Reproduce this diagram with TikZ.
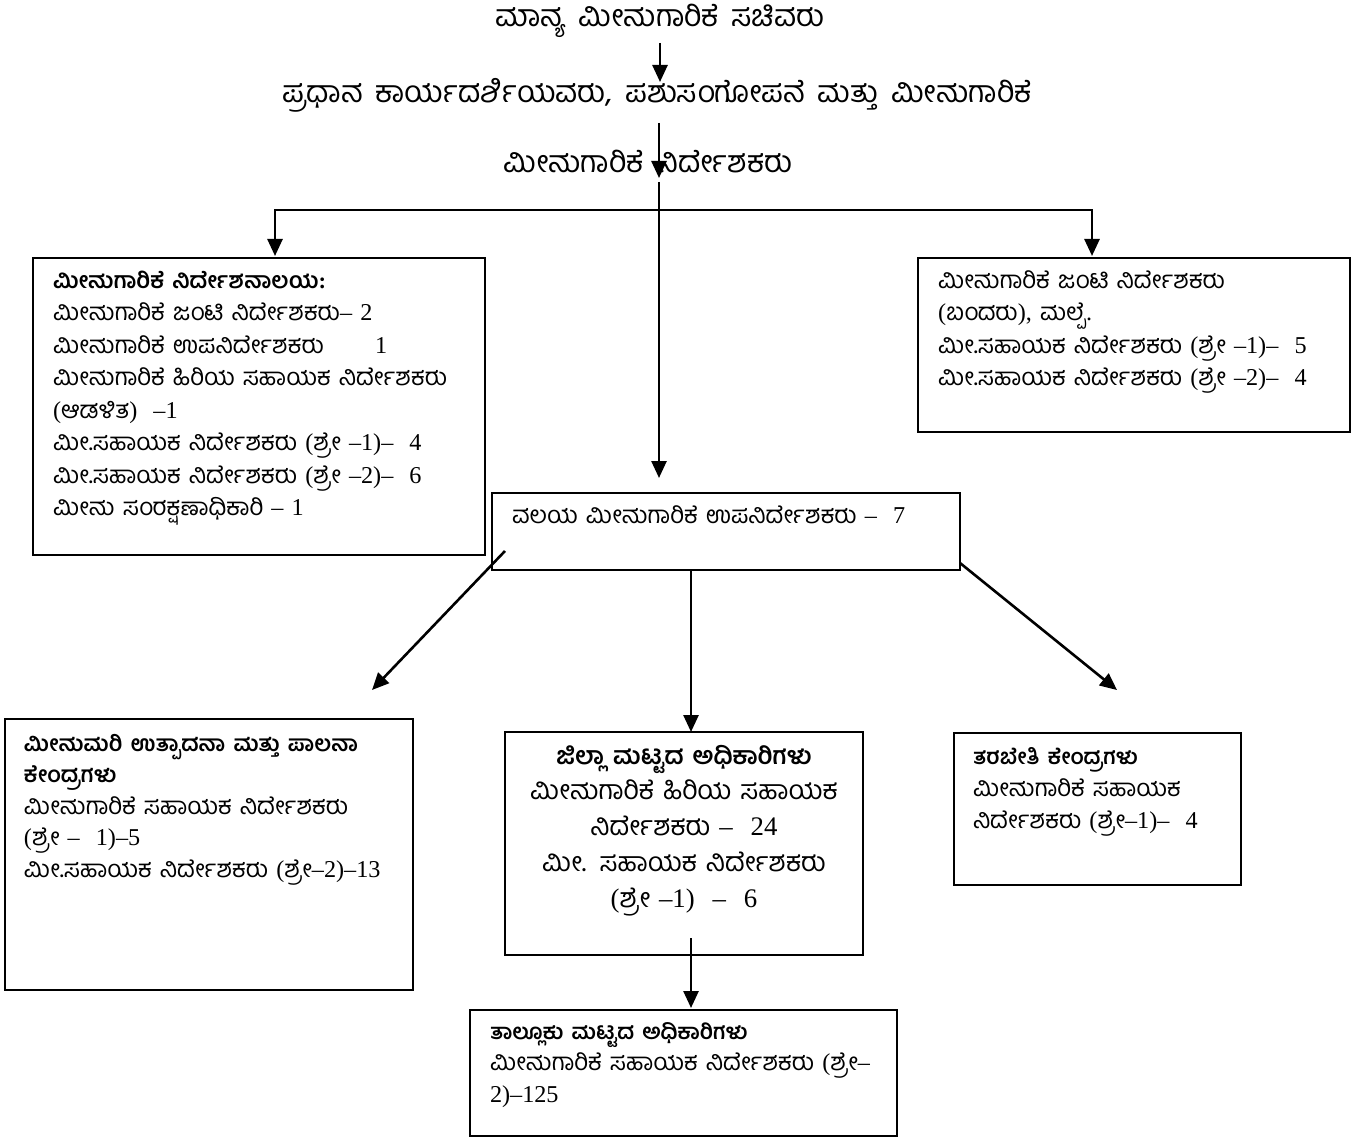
\documentclass[tikz,border=0pt]{standalone}
\usepackage{fontspec}
\setmainfont{Liberation Serif}
\newfontfamily\kn[Script=Kannada,WordSpace=1.7]{Hind Mysuru}
\usetikzlibrary{arrows.meta,calc}
\newcommand\tr[1]{{\rmfamily #1}}
\newcommand\kfs[2]{\kn\fontsize{#1}{#2}\selectfont\lineskiplimit=-40pt\relax}
\newcommand\bh[2]{{\bfseries\fontsize{#1}{10}\selectfont #2}}
\begin{document}
\begin{tikzpicture}[x=0.5pt,y=-0.5pt,
  box/.style={draw, line width=1.1pt, anchor=north west, inner sep=0pt, outer sep=0pt},
  txt/.style={anchor=base west, inner sep=0pt, outer sep=0pt, align=left, text width=#1},
  ttl/.style={anchor=base, inner sep=0pt, outer sep=0pt, font=\kfs{15.2}{17}},
  arr/.style={line width=1.3pt, -{Triangle[length=8.5pt,width=7.5pt]}}]
\useasboundingbox (0,0) rectangle (1369,1139);

% titles
\node[ttl] (t1) at (660,27) {ಮಾನ್ಯ ಮೀನುಗಾರಿಕೆ ಸಚಿವರು};
\node[ttl] (t2) at (657,103) {ಪ್ರಧಾನ ಕಾರ್ಯದರ್ಶಿಯವರು, ಪಶುಸಂಗೋಪನೆ ಮತ್ತು ಮೀನುಗಾರಿಕೆ};
\node[ttl] (t3) at (648,173) {ಮೀನುಗಾರಿಕೆ ನಿರ್ದೇಶಕರು};

% boxes
\node[box, minimum width=226pt, minimum height=148.5pt] (b1) at (33,258) {};
\node[box, minimum width=216pt, minimum height=87pt] (b2) at (918,258) {};
\node[box, minimum width=234pt, minimum height=38.5pt] (b3) at (492,493) {};
\node[box, minimum width=204pt, minimum height=135.5pt] (b4) at (5,719) {};
\node[box, minimum width=179pt, minimum height=111.5pt] (b5) at (505,732) {};
\node[box, minimum width=143.5pt, minimum height=76pt] (b6) at (954,733) {};
\node[box, minimum width=213.5pt, minimum height=63pt] (b7) at (470,1010) {};

% box texts
\node[txt=215pt, font=\kfs{12.1}{16.25}] (b1t) at (53,288) {%
\bh{11.3}{ಮೀನುಗಾರಿಕೆ ನಿರ್ದೇಶನಾಲಯ\tr{:}}\\
ಮೀನುಗಾರಿಕೆ ಜಂಟಿ ನಿರ್ದೇಶಕರು\tr{– 2}\\
\makebox[161pt][l]{ಮೀನುಗಾರಿಕೆ ಉಪನಿರ್ದೇಶಕರು}\tr{1}\\
ಮೀನುಗಾರಿಕೆ ಹಿರಿಯ ಸಹಾಯಕ ನಿರ್ದೇಶಕರು\\
\tr{(}ಆಡಳಿತ\tr{)\ \ –1}\\
ಮೀ.ಸಹಾಯಕ ನಿರ್ದೇಶಕರು \tr{(}ಶ್ರೇ \tr{–1)– \ 4}\\
ಮೀ.ಸಹಾಯಕ ನಿರ್ದೇಶಕರು \tr{(}ಶ್ರೇ \tr{–2)– \ 6}\\
ಮೀನು ಸಂರಕ್ಷಣಾಧಿಕಾರಿ \tr{– 1}};

\node[txt=205pt, font=\kfs{12.1}{16.25}] (b2t) at (938,288) {%
ಮೀನುಗಾರಿಕೆ ಜಂಟಿ ನಿರ್ದೇಶಕರು\\
\tr{(}ಬಂದರು\tr{),} ಮಲ್ಪೆ\tr{.}\\
ಮೀ.ಸಹಾಯಕ ನಿರ್ದೇಶಕರು \tr{(}ಶ್ರೇ \tr{–1)– \ 5}\\
ಮೀ.ಸಹಾಯಕ ನಿರ್ದೇಶಕರು \tr{(}ಶ್ರೇ \tr{–2)– \ 4}};

\node[txt=220pt, font=\kfs{12.1}{16.25}] (b3t) at (512,523) {%
ವಲಯ ಮೀನುಗಾರಿಕೆ ಉಪನಿರ್ದೇಶಕರು \tr{– \ 7}};

\node[txt=195pt, font=\kfs{12.1}{15.75}] (b4t) at (24,751) {%
\bh{11.1}{ಮೀನುಮರಿ ಉತ್ಪಾದನಾ ಮತ್ತು ಪಾಲನಾ}\\
\bh{11.1}{ಕೇಂದ್ರಗಳು}\\
ಮೀನುಗಾರಿಕೆ ಸಹಾಯಕ ನಿರ್ದೇಶಕರು\\
\tr{(}ಶ್ರೇ \tr{– \ 1)–5}\\
ಮೀ.ಸಹಾಯಕ ನಿರ್ದೇಶಕರು \tr{(}ಶ್ರೇ\tr{–2)–13}};

\node[txt=175pt, align=center, anchor=base, font=\kfs{13.4}{17.9}] (b5t) at (684,764) {%
\bh{12.2}{ಜಿಲ್ಲಾ ಮಟ್ಟದ ಅಧಿಕಾರಿಗಳು}\\
ಮೀನುಗಾರಿಕೆ ಹಿರಿಯ ಸಹಾಯಕ\\
ನಿರ್ದೇಶಕರು \tr{– \ 24}\\
ಮೀ. ಸಹಾಯಕ ನಿರ್ದೇಶಕರು\\
\tr{(}ಶ್ರೇ \tr{–1) \ – \ 6}};

\node[txt=130pt, font=\kfs{12.1}{16}] (b6t) at (973,764) {%
\bh{10.8}{ತರಬೇತಿ ಕೇಂದ್ರಗಳು}\\
ಮೀನುಗಾರಿಕೆ ಸಹಾಯಕ\\
ನಿರ್ದೇಶಕರು \tr{(}ಶ್ರೇ\tr{–1)– \ 4}};

\node[txt=205pt, font=\kfs{12.1}{15.75}] (b7t) at (490,1039) {%
\bh{10.8}{ತಾಲ್ಲೂಕು ಮಟ್ಟದ ಅಧಿಕಾರಿಗಳು}\\
ಮೀನುಗಾರಿಕೆ ಸಹಾಯಕ ನಿರ್ದೇಶಕರು \tr{(}ಶ್ರೇ\tr{–}\\
\tr{2)–125}};

% connectors
\draw[arr] ($(t1.base)+(0,16)$) -- ($(t2.base)+(3,-21)$);
\draw[arr] ($(t2.base)+(2,20)$) -- ($(t3.base)+(11,5)$);
\coordinate (j) at ($(t3.base)+(11,37)$);
\draw[arr] ($(t3.base)+(11,9)$) -- ($(b3.north west)+(167,-15)$);
\draw[arr] (j) -| ($(b1.north west)+(242,-2)$);
\draw[arr] (j) -| ($(b2.north west)+(174,-2)$);
\draw[arr] ($(b3.south west)+(13,-19)$) -- ($(b4.north west)+(367,-29)$);
\draw[arr] ($(b3.south east)+(0,-7)$) -- ($(b6.north west)+(163,-43)$);
\draw[arr] ($(b3.south west)+(199,0)$) -- ($(b5.north west)+(186,0)$);
\draw[arr] ($(b5.south west)+(186,-17)$) -- ($(b7.north west)+(221,-2)$);
\end{tikzpicture}
\end{document}
